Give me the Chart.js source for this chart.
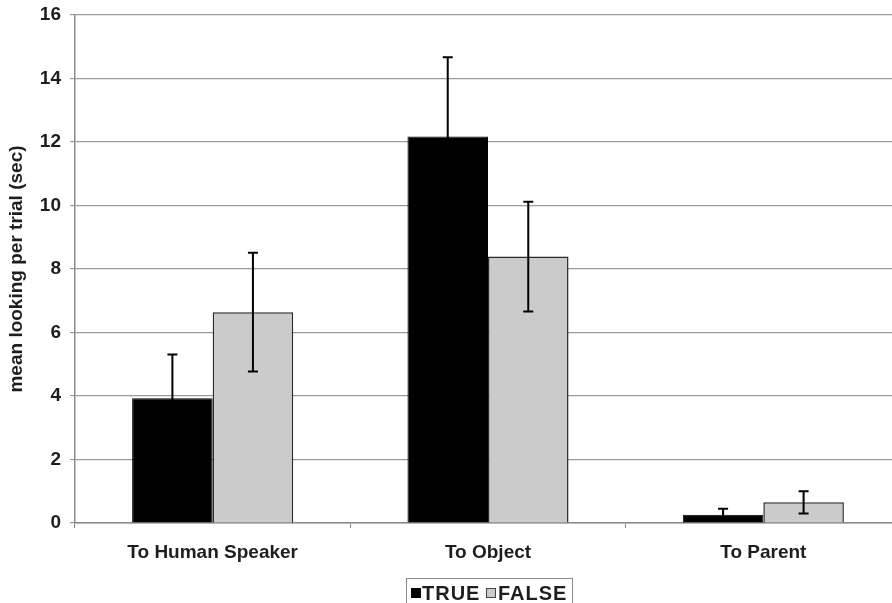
<!DOCTYPE html>
<html>
<head>
<meta charset="utf-8">
<script src="https://cdn.jsdelivr.net/npm/chart.js@4.4.1/dist/chart.umd.min.js"></script>
<style>
  html, body { margin: 0; padding: 0; background: #ffffff; overflow: hidden; width: 892px; height: 603px; }
  #wrap { position: absolute; left: 0; top: 0; width: 902px; height: 603px; }
</style>
</head>
<body>
<div id="wrap"><canvas id="c" width="902" height="603"></canvas></div>
<script>
const categories = ['To Human Speaker', 'To Object', 'To Parent'];
const seriesNames = ['TRUE', 'FALSE'];
const trueValues = [3.93, 12.17, 0.26];
const falseValues = [6.64, 8.39, 0.65];
const trueErrors = [1.38, 2.5, 0.19];
const falseErrors = [1.87, 1.73, 0.35];
const yMin = 0;
const yMax = 16;
const yStep = 2;
const yTitle = 'mean looking per trial (sec)';

const FONT = '"Liberation Sans", Arial, sans-serif';
const TEXT = '#1e1e1e';

const errorBars = {
  id: 'errorBars',
  afterDatasetsDraw(chart) {
    const ctx = chart.ctx;
    const ys = chart.scales.y;
    const errs = [trueErrors, falseErrors];
    chart.data.datasets.forEach((ds, i) => {
      const meta = chart.getDatasetMeta(i);
      meta.data.forEach((bar, j) => {
        const v = ds.data[j];
        const e = errs[i][j];
        const x = bar.x;
        const yHi = ys.getPixelForValue(v + e);
        const yLo = ys.getPixelForValue(Math.max(0, v - e));
        ctx.save();
        ctx.strokeStyle = '#000000';
        ctx.lineWidth = 2;
        ctx.beginPath();
        ctx.moveTo(x, yLo); ctx.lineTo(x, yHi);
        ctx.moveTo(x - 5, yHi); ctx.lineTo(x + 5, yHi);
        ctx.moveTo(x - 5, yLo); ctx.lineTo(x + 5, yLo);
        ctx.stroke();
        ctx.restore();
      });
    });
  }
};

const boxLegend = {
  id: 'boxLegend',
  afterDraw(chart) {
    const ctx = chart.ctx;
    ctx.save();
    ctx.strokeStyle = '#8a8a8a';
    ctx.lineWidth = 1;
    ctx.strokeRect(406.5, 578.5, 166, 30);
    ctx.font = 'bold 20px ' + FONT;
    try { ctx.letterSpacing = '1px'; } catch (e) {}
    ctx.textBaseline = 'alphabetic';
    ctx.fillStyle = '#000000';
    ctx.fillRect(411, 588, 10, 10);
    ctx.fillStyle = TEXT;
    ctx.fillText(seriesNames[0], 422, 599.5);
    ctx.fillStyle = '#cbcbcb';
    ctx.fillRect(486, 588, 10, 10);
    ctx.strokeStyle = '#444444';
    ctx.strokeRect(486.5, 588.5, 9, 9);
    ctx.fillStyle = TEXT;
    ctx.fillText(seriesNames[1], 498, 599.5);
    ctx.restore();
  }
};

new Chart(document.getElementById('c'), {
  type: 'bar',
  data: {
    labels: categories,
    datasets: [
      {
        label: seriesNames[0],
        data: trueValues,
        backgroundColor: '#000000',
        borderColor: '#000000',
        borderWidth: 1,
        categoryPercentage: 0.585,
        barPercentage: 1.0
      },
      {
        label: seriesNames[1],
        data: falseValues,
        backgroundColor: '#cbcbcb',
        borderColor: '#2a2a2a',
        borderWidth: 1.5,
        categoryPercentage: 0.585,
        barPercentage: 1.0
      }
    ]
  },
  options: {
    responsive: false,
    animation: false,
    devicePixelRatio: 1,
    layout: { padding: { left: 0, top: 15, right: 1, bottom: 0 } },
    plugins: {
      legend: { display: false },
      tooltip: { enabled: false },
      title: { display: false }
    },
    scales: {
      x: {
        offset: true,
        grid: {
          display: true,
          offset: true,
          drawOnChartArea: false,
          drawTicks: true,
          tickLength: 5,
          color: '#8a8a8a'
        },
        border: { display: true, color: '#8a8a8a', width: 1.5 },
        ticks: {
          color: TEXT,
          font: { family: FONT, size: 19, weight: 'bold' },
          padding: 13,
          maxRotation: 0
        },
        afterFit(scale) { scale.height = 80; }
      },
      y: {
        min: yMin,
        max: yMax,
        ticks: {
          stepSize: yStep,
          color: TEXT,
          font: { family: FONT, size: 19, weight: 'bold' },
          padding: 9
        },
        grid: {
          color: '#9a9a9a',
          lineWidth: 1.2,
          tickLength: 5,
          drawTicks: true
        },
        border: { display: true, color: '#8a8a8a', width: 1.5 },
        title: {
          display: true,
          text: yTitle,
          color: TEXT,
          font: { family: FONT, size: 19, weight: 'bold' },
          padding: { top: 5, bottom: 0 }
        },
        afterFit(scale) {
          scale.width = 75;
          scale.paddingTop = 0;
          scale.paddingBottom = 0;
        }
      }
    }
  },
  plugins: [errorBars, boxLegend]
});
</script>
</body>
</html>
